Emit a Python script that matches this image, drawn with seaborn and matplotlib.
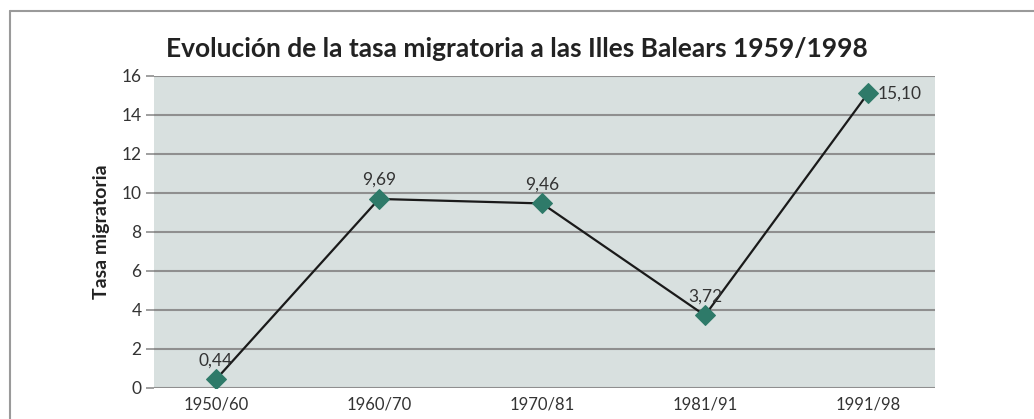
import numpy as np
import pandas as pd
import seaborn as sns
import matplotlib.pyplot as plt
from matplotlib.lines import Line2D

periodos = ['1950/60', '1960/70', '1970/81', '1981/91', '1991/98']
tasa = [0.44, 9.69, 9.46, 3.72, 15.10]
etiquetas = ['0,44', '9,69', '9,46', '3,72', '15,10']

df = pd.DataFrame({'periodo': periodos, 'tasa': tasa})

sns.set_style('white')
plt.rcParams['font.family'] = ['Lato', 'DejaVu Sans']

fig = plt.figure(figsize=(10.34, 4.19), dpi=100)
ax = fig.add_axes([0.149, 0.074, 0.755, 0.745])
ax.set_facecolor('#d8e0df')

sns.lineplot(data=df, x='periodo', y='tasa', ax=ax, color='#1a1a1a', linewidth=1.6,
             marker='D', markersize=10.5, markerfacecolor='#2e7a69',
             markeredgecolor='#2e7a69', zorder=3)

for i, (v, t) in enumerate(zip(tasa, etiquetas)):
    if i == len(tasa) - 1:
        ax.annotate(t, (i, v), xytext=(7, 0), textcoords='offset points',
                    ha='left', va='center', fontsize=12.5, color='#333333')
    else:
        ax.annotate(t, (i, v), xytext=(0, 8), textcoords='offset points',
                    ha='center', va='bottom', fontsize=12.5, color='#333333')

ax.set_xlim(-0.38, 4.41)
ax.set_ylim(0, 16)
ax.set_yticks(np.arange(0, 17, 2))
ax.yaxis.grid(True, color='#8f8f8f', linewidth=1.5)
ax.set_axisbelow(True)
for s in ax.spines.values():
    s.set_visible(False)
ax.tick_params(axis='y', length=6, width=1.2, color='#8f8f8f', labelsize=12.5,
               labelcolor='#333333', pad=3, left=True)
ax.tick_params(axis='x', length=0, labelsize=12, labelcolor='#333333', pad=6)
ax.set_xlabel('')
ax.set_ylabel('Tasa migratoria', fontsize=14, fontweight='bold', color='#222222', labelpad=8)

fig.text(0.5, 0.882, 'Evolución de la tasa migratoria a las Illes Balears 1959/1998',
         ha='center', va='center', fontsize=19, fontweight='bold', color='#222222')

# marco exterior
fig.add_artist(Line2D([9.5 / 1034, 9.5 / 1034], [0, 1 - 11 / 419], color='#9a9a9a', linewidth=1.5))
fig.add_artist(Line2D([9.5 / 1034, 1], [1 - 11 / 419, 1 - 11 / 419], color='#9a9a9a', linewidth=1.5))

fig.savefig('out.png', dpi=100)
